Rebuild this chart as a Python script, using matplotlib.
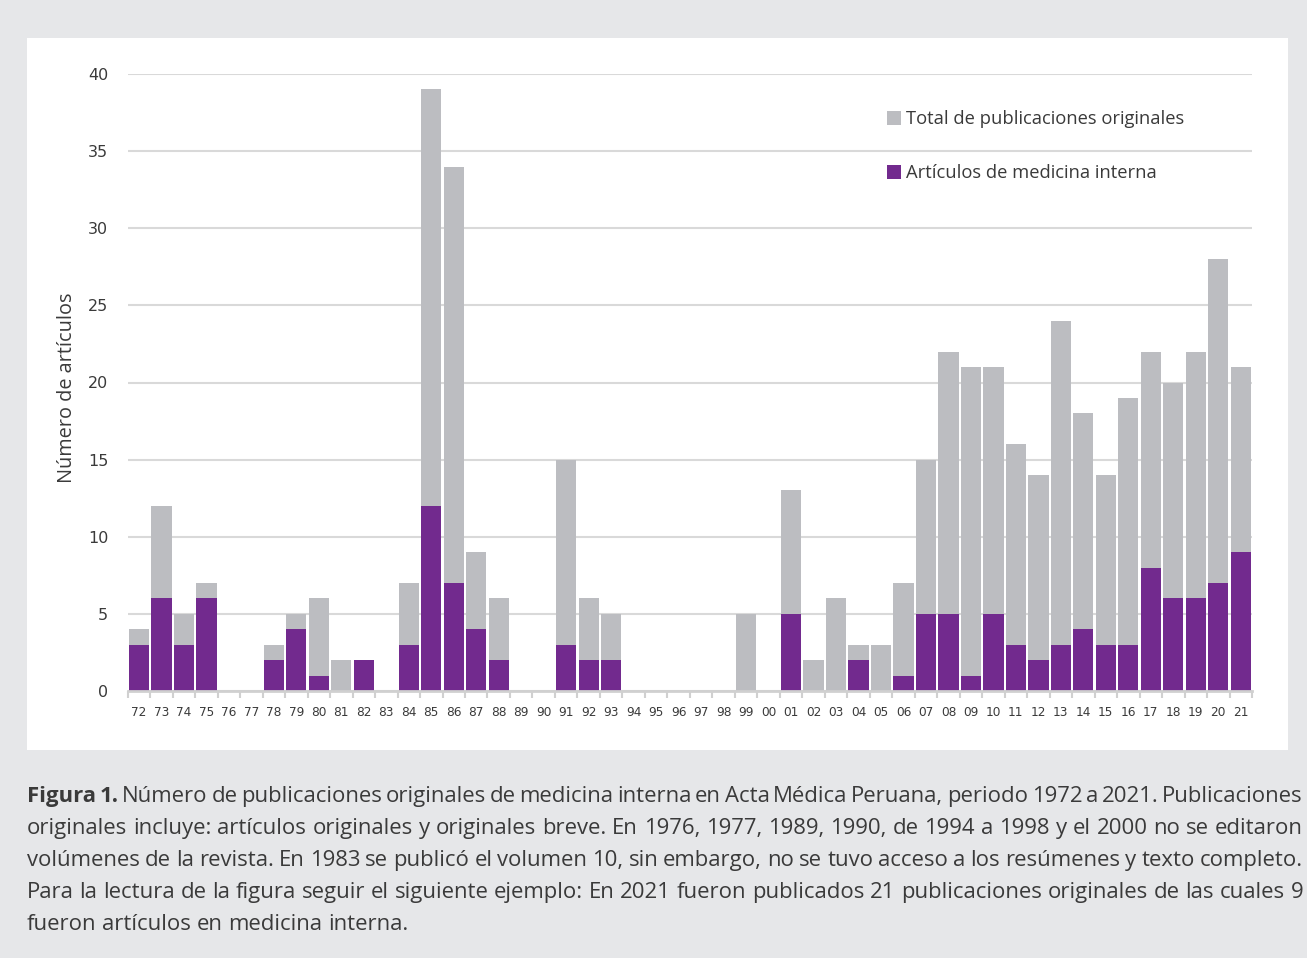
import matplotlib
matplotlib.use('Agg')
import matplotlib.pyplot as plt
from matplotlib.patches import Rectangle
import numpy as np

years = ['72', '73', '74', '75', '76', '77', '78', '79', '80', '81', '82', '83', '84', '85',
         '86', '87', '88', '89', '90', '91', '92', '93', '94', '95', '96', '97', '98', '99',
         '00', '01', '02', '03', '04', '05', '06', '07', '08', '09', '10', '11', '12', '13',
         '14', '15', '16', '17', '18', '19', '20', '21']
total = [4, 12, 5, 7, 0, 0, 3, 5, 6, 2, 2, 0, 7, 39,
         34, 9, 6, 0, 0, 15, 6, 5, 0, 0, 0, 0, 0, 5,
         0, 13, 2, 6, 3, 3, 7, 15, 22, 21, 21, 16, 14, 24,
         18, 14, 19, 22, 20, 22, 28, 21]
interna = [3, 6, 3, 6, 0, 0, 2, 4, 1, 0, 2, 0, 3, 12,
           7, 4, 2, 0, 0, 3, 2, 2, 0, 0, 0, 0, 0, 0,
           0, 5, 0, 0, 2, 0, 1, 5, 5, 1, 5, 3, 2, 3,
           4, 3, 3, 8, 6, 6, 7, 9]
legend_labels = ['Total de publicaciones originales', 'Artículos de medicina interna']
ylabel = 'Número de artículos'
caption_lines = [
    'Figura 1. Número de publicaciones originales de medicina interna en Acta Médica Peruana, periodo 1972 a 2021. Publicaciones',
    'originales incluye: artículos originales y originales breve. En 1976, 1977, 1989, 1990, de 1994 a 1998 y el 2000 no se editaron',
    'volúmenes de la revista. En 1983 se publicó el volumen 10, sin embargo, no se tuvo acceso a los resúmenes y texto completo.',
    'Para la lectura de la figura seguir el siguiente ejemplo: En 2021 fueron publicados 21 publicaciones originales de las cuales 9',
    'fueron artículos en medicina interna.',
]

GRAY = '#bcbdc1'
PURPLE = '#722a8e'
TXT = '#3a3a3a'
CAPFONT = 'Open Sans'

W, H = 1307, 958
fig = plt.figure(figsize=(W / 100, H / 100), dpi=100, facecolor='#e6e7e9')
fig.patches.append(Rectangle((27 / W, 1 - 750 / H), 1261 / W, 712 / H,
                             transform=fig.transFigure, facecolor='white',
                             edgecolor='none', zorder=-10))

ax = fig.add_axes([127.7 / W, 1 - 691 / H, (1252 - 127.7) / W, 617 / H])
ax.set_zorder(1)
ax.set_facecolor('none')
x = np.arange(len(years))
ax.bar(x, total, width=0.9, color=GRAY, zorder=2)
ax.bar(x, interna, width=0.9, color=PURPLE, zorder=3)
ax.set_xlim(-0.5, len(years) - 0.5)
ax.set_ylim(0, 40)
ax.set_yticks(range(0, 41, 5))
ax.yaxis.grid(True, color='#d9d9d9', linewidth=1.5)
ax.set_axisbelow(True)
for s in ['top', 'right', 'left']:
    ax.spines[s].set_visible(False)
ax.spines['bottom'].set_color('#d0d0d0')
ax.spines['bottom'].set_linewidth(2)
ax.spines['bottom'].set_zorder(4)
ax.set_xticks(x)
ax.set_xticklabels(years, fontsize=8.7, color=TXT, family='DejaVu Sans')
ax.tick_params(axis='x', which='major', length=0, pad=11)
ax.set_xticks(np.arange(len(years) + 1) - 0.5, minor=True)
ax.tick_params(axis='x', which='minor', length=5, width=1.5, color='#d0d0d0')
ax.tick_params(axis='y', length=0, pad=14, labelsize=11.5, labelcolor=TXT)
ax.set_ylabel(ylabel, fontsize=14.3, color=TXT, family='Open Sans')
ax.yaxis.set_label_coords((77 - 127.7) / (1252 - 127.7), (691 - 388) / 617)

# legend (manual)
for i, (lab, col) in enumerate(zip(legend_labels, [GRAY, PURPLE])):
    yc = [118, 172][i]
    fig.patches.append(Rectangle((887 / W, 1 - (yc + 7) / H), 14 / W, 14 / H,
                                 transform=fig.transFigure, facecolor=col,
                                 edgecolor='none', zorder=5))
    fig.text(906 / W, 1 - (yc + 1) / H, lab, fontsize=13.2, color=TXT, family='Open Sans',
             va='center', ha='left')

# caption (justified)
fig.canvas.draw()
renderer = fig.canvas.get_renderer()
left_px, right_px = 27, 1303
avail = right_px - left_px


def width_of(s, fs, weight='normal'):
    t = fig.text(0, 0, s, fontsize=fs, family=CAPFONT, weight=weight)
    w = t.get_window_extent(renderer).width
    t.remove()
    return w


# fit font size so that line 2 (ordinary spacing) fills the width
fs0 = 16
fs = fs0 * avail / width_of(caption_lines[1], fs0)
space_w = width_of('a a', fs) - width_of('aa', fs)
baselines = [802, 834, 866, 898, 930]
for li, line in enumerate(caption_lines):
    words = line.split(' ')
    yb = 1 - baselines[li] / H
    lfs = fs
    widths = [width_of(wd, lfs, 'bold' if (li == 0 and wi < 2) else 'normal')
              for wi, wd in enumerate(words)]
    min_gap = 0.35 * space_w
    need = sum(widths) + min_gap * (len(words) - 1)
    if li < len(caption_lines) - 1 and need > avail:
        lfs = fs * avail / need
        widths = [width_of(wd, lfs, 'bold' if (li == 0 and wi < 2) else 'normal')
                  for wi, wd in enumerate(words)]
    if li == len(caption_lines) - 1:
        gap = space_w
    else:
        gap = (avail - sum(widths)) / (len(words) - 1)
    xpos = left_px
    for wi, (wd, wdt) in enumerate(zip(words, widths)):
        fig.text(xpos / W, yb, wd, fontsize=lfs, color=TXT, family=CAPFONT,
                 weight='bold' if (li == 0 and wi < 2) else 'normal',
                 va='baseline', ha='left')
        xpos += wdt + gap

fig.savefig('out.png', dpi=100, facecolor=fig.get_facecolor())
